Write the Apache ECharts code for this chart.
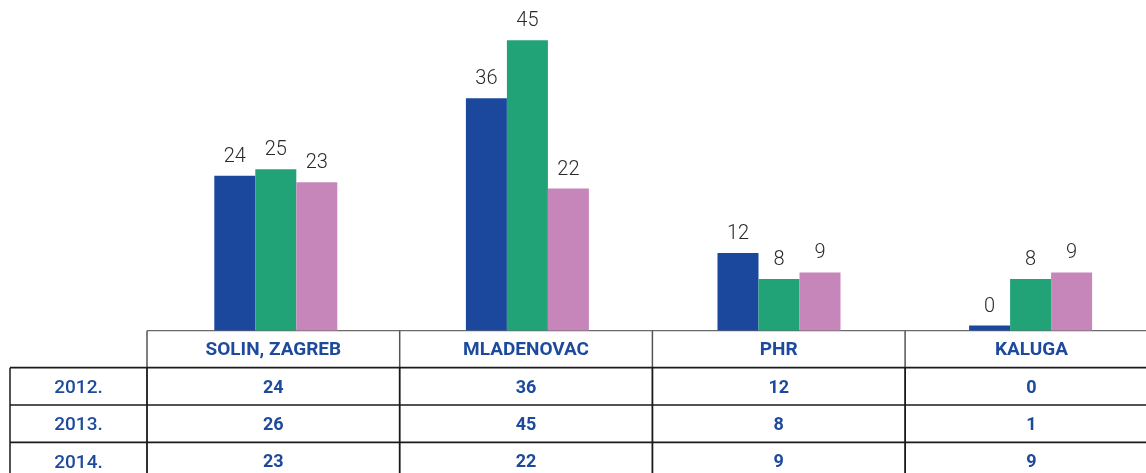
<!DOCTYPE html>
<html>
<head>
<meta charset="utf-8">
<script src="https://cdn.jsdelivr.net/npm/echarts@6/dist/echarts.min.js"></script>
<style>
  html, body { margin: 0; padding: 0; background: #fff; }
  #chart { width: 1146px; height: 473px; }
</style>
</head>
<body>
<div id="chart"></div>
<script>
// Locations (columns of the table and bar groups)
const categories = ['SOLIN, ZAGREB', 'MLADENOVAC', 'PHR', 'KALUGA'];
const years = ['2012.', '2013.', '2014.'];

// Values shown above the bars
const bars2012 = [24, 36, 12, 0];
const bars2013 = [25, 45, 8, 8];
const bars2014 = [23, 22, 9, 9];

// Values listed in the table rows
const table2012 = [24, 36, 12, 0];
const table2013 = [26, 45, 8, 1];
const table2014 = [23, 22, 9, 9];

const colors = ['#1b489c', '#22a277', '#c786b9'];
const textBlue = '#1d4a9c';
const lineDark = '#1a1a1a';

const chart = echarts.init(document.getElementById('chart'), null, { renderer: 'canvas' });

const barLabel = {
  show: true,
  position: 'top',
  distance: 9,
  fontFamily: 'Roboto, sans-serif',
  fontWeight: 300,
  fontSize: 20,
  color: '#2a2a2a'
};

function barSeries(name, data, color, extra) {
  return Object.assign({
    name: name,
    type: 'bar',
    data: data,
    barWidth: 41,
    barGap: '0%',
    itemStyle: { color: color },
    label: barLabel,
    emphasis: { disabled: true },
    animation: false
  }, extra || {});
}

// plot band: the last column runs past the right edge of the page
const gridTop = 8, gridBottomY = 330.5, bandWidth = 251.6, gridLeft = 150;
// table columns
const tableLeft = 147, colWidth = 252.7, firstColLeft = 10;
const rowsTop = [330.7, 367.7, 405.0, 442.3, 479.6];

chart.setOption({
  animation: false,
  grid: {
    left: gridLeft,
    top: gridTop,
    width: bandWidth * categories.length,
    height: gridBottomY - gridTop,
    outerBoundsMode: 'none'
  },
  xAxis: {
    type: 'category',
    data: categories,
    axisLine: { show: false },
    axisTick: { show: false },
    axisLabel: { show: false }
  },
  yAxis: {
    type: 'value',
    min: 0,
    max: 50,
    show: false,
    splitLine: { show: false }
  },
  series: [
    barSeries(years[0], bars2012, colors[0], { barMinHeight: 5 }),
    barSeries(years[1], bars2013, colors[1]),
    barSeries(years[2], bars2014, colors[2])
  ]
});

// Data table under the bars
function buildTable() {
  const tableRows = [table2012, table2013, table2014];
  const els = [];
  const edges = [];
  for (let i = 0; i <= categories.length; i++) edges.push(tableLeft + i * colWidth);
  const centers = categories.map((c, i) => (edges[i] + edges[i + 1]) / 2);

  const hLine = (x1, x2, y, stroke, w) => els.push({
    type: 'line', silent: true,
    shape: { x1: x1, y1: y, x2: x2, y2: y },
    style: { stroke: stroke, lineWidth: w }
  });
  const vLine = (x, y1, y2, stroke, w) => els.push({
    type: 'line', silent: true,
    shape: { x1: x, y1: y1, x2: x, y2: y2 },
    style: { stroke: stroke, lineWidth: w }
  });
  const text = (str, x, y, font) => els.push({
    type: 'text', silent: true,
    x: x, y: y,
    style: Object.assign({ text: str, align: 'center', verticalAlign: 'middle', fill: textBlue }, font)
  });

  // header row: top rule and column dividers
  hLine(edges[0], edges[edges.length - 1], rowsTop[0], '#6a6a6a', 1.2);
  edges.forEach(x => vLine(x, rowsTop[0], rowsTop[1], '#555', 1.5));

  // body rows
  for (let r = 1; r < rowsTop.length; r++) {
    hLine(firstColLeft, edges[edges.length - 1], rowsTop[r], lineDark, r % 2 === 0 ? 1.3 : 1.8);
  }
  vLine(firstColLeft, rowsTop[1], rowsTop[4], lineDark, 1.5);
  edges.forEach(x => vLine(x, rowsTop[1], rowsTop[4], lineDark, 1.8));

  const headFont = { fontFamily: 'Roboto, sans-serif', fontWeight: 'bold', fontSize: 19 };
  const yearFont = { fontFamily: 'Roboto, sans-serif', fontWeight: 500, fontSize: 19 };
  const cellFont = { fontFamily: 'Roboto, sans-serif', fontWeight: 'bold', fontSize: 18 };

  categories.forEach((c, i) => text(c, centers[i], (rowsTop[0] + rowsTop[1]) / 2 + 1, headFont));
  years.forEach((yr, r) => {
    const yMid = (rowsTop[r + 1] + rowsTop[r + 2]) / 2 + 2;
    text(yr, (firstColLeft + edges[0]) / 2, yMid, yearFont);
    tableRows[r].forEach((v, i) => text(String(v), centers[i], yMid, cellFont));
  });

  chart.setOption({ graphic: { elements: els } });
}
buildTable();
</script>
</body>
</html>
